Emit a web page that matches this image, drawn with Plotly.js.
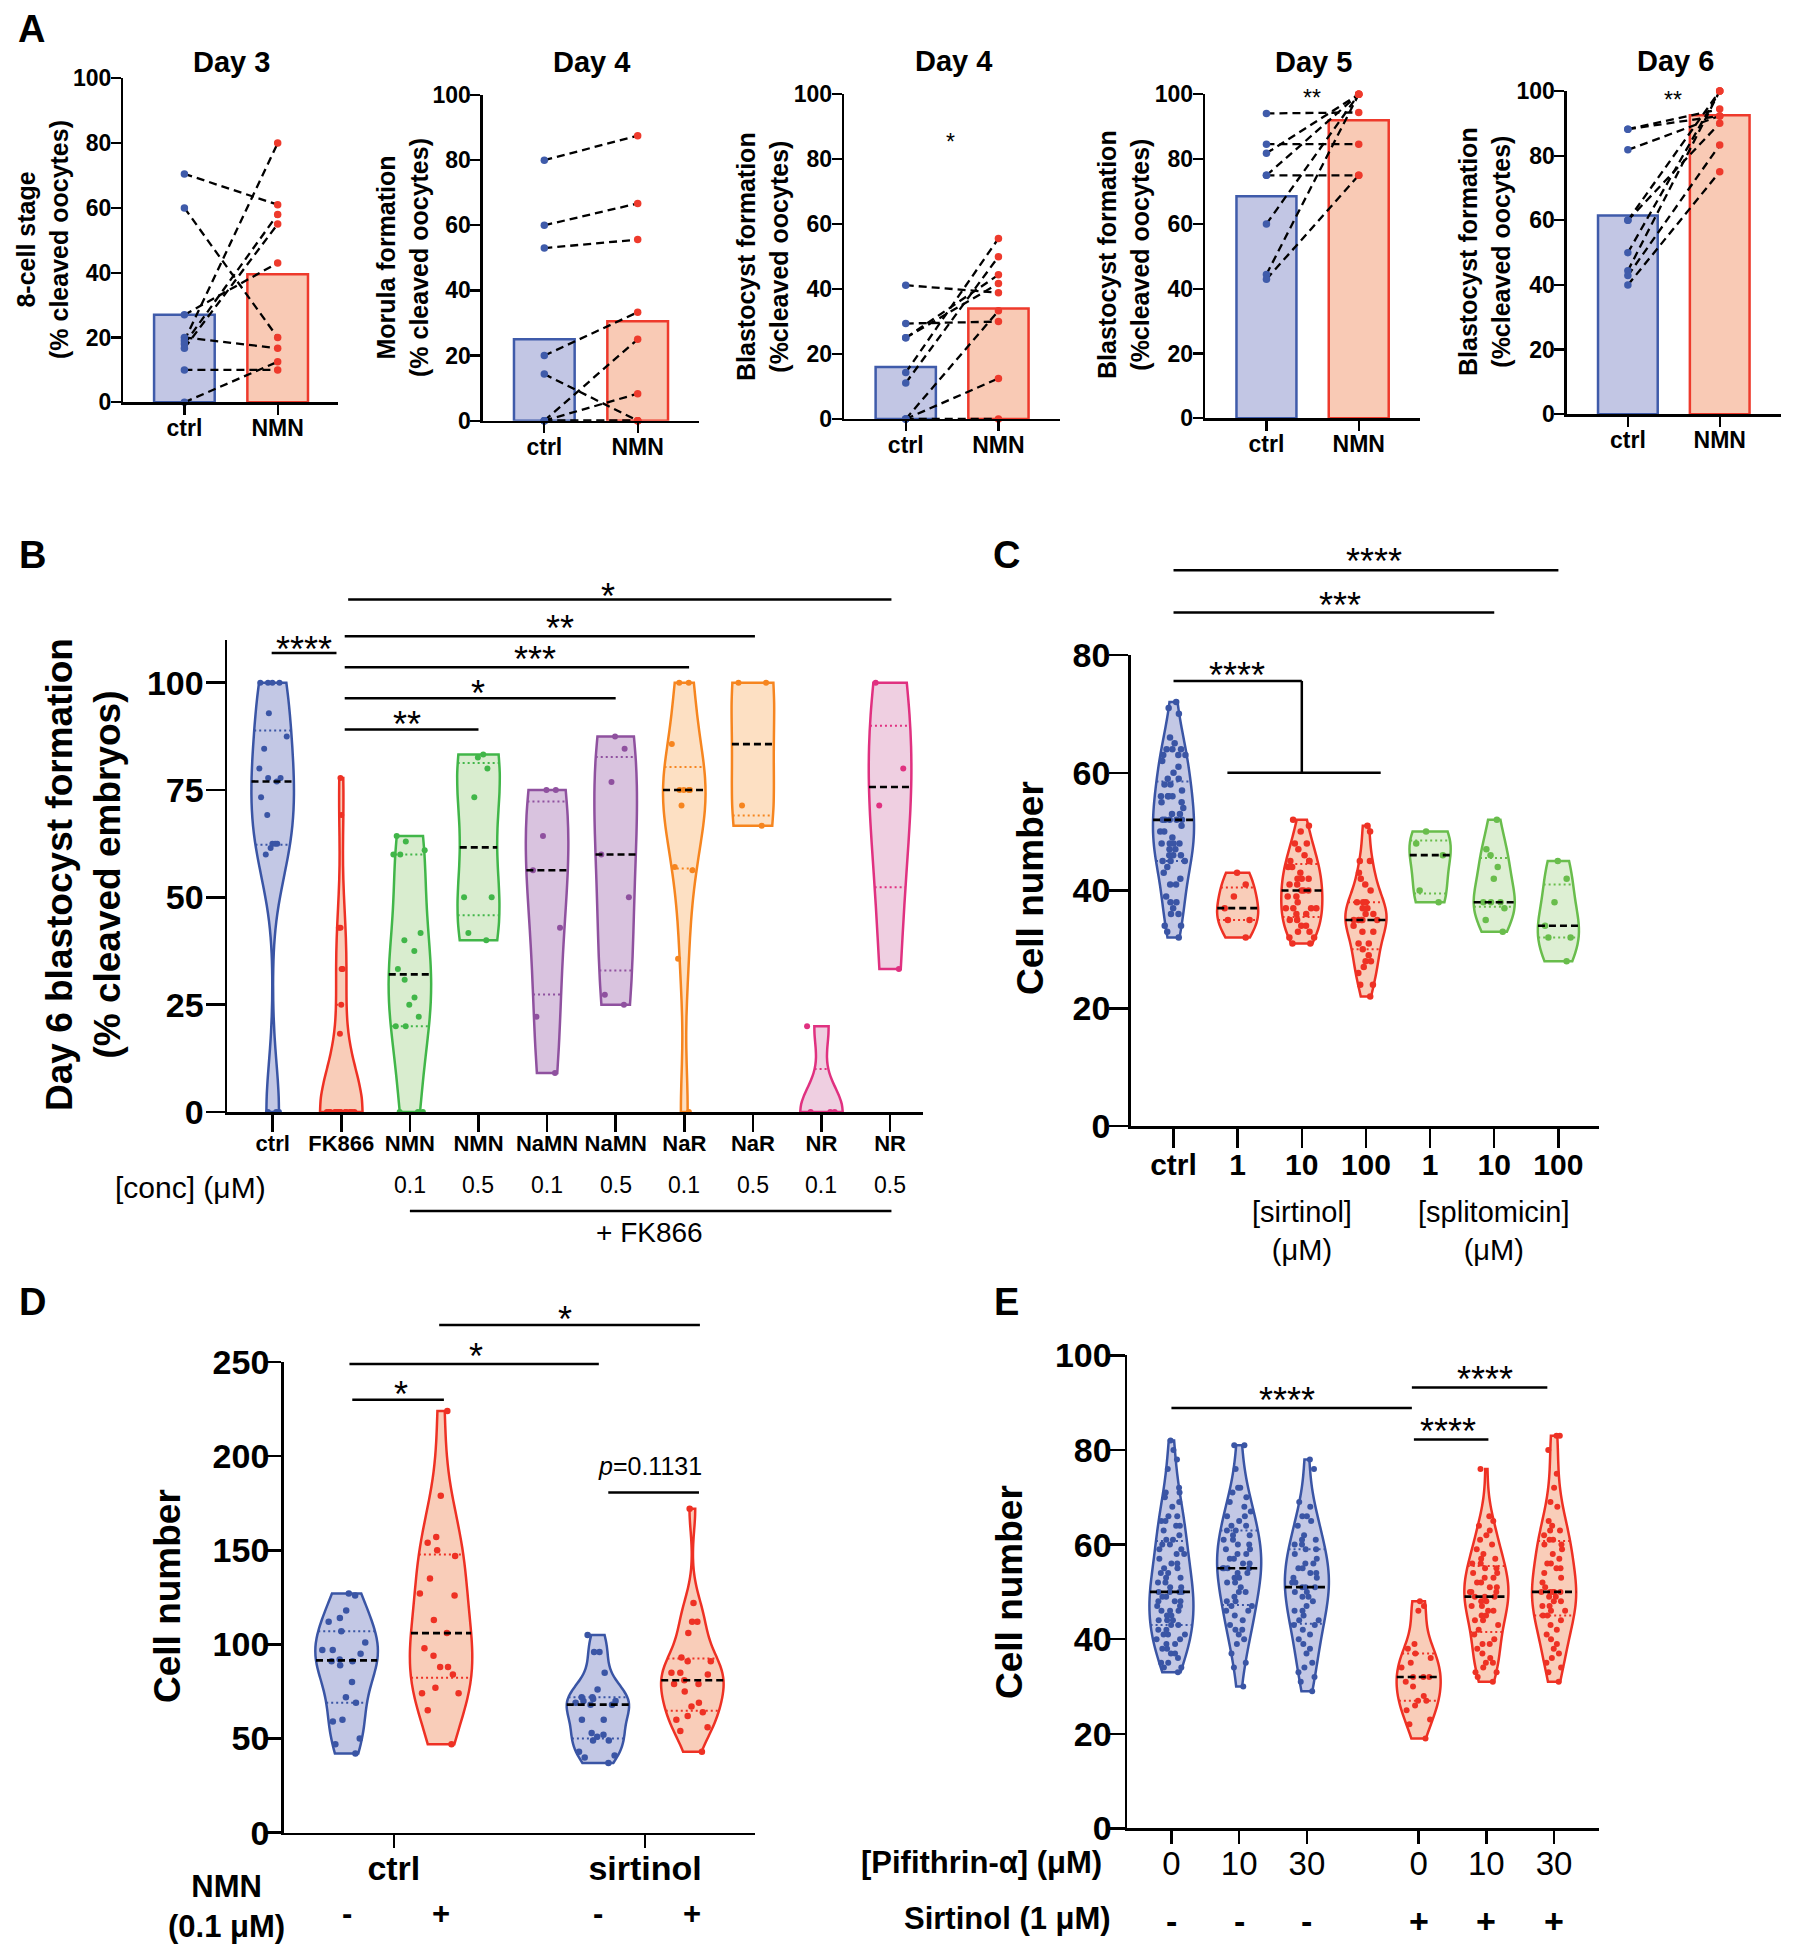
<!DOCTYPE html>
<html><head><meta charset="utf-8">
<script src="https://cdn.plot.ly/plotly-3.0.1.min.js"></script>
<style>html,body{margin:0;padding:0;background:#fff}#chart{width:1793px;height:1957px}</style>
</head><body><div id="chart"></div>
<script>
// ================= DATA =================
// Panel A (paired values, ctrl -> NMN)
const aCategories = ['ctrl', 'NMN'];
const aTitles = ['Day 3', 'Day 4', 'Day 4', 'Day 5', 'Day 6'];
const aYTitles = ['8-cell stage<br>(% cleaved oocytes)', 'Morula formation<br>(% cleaved oocytes)',
  'Blastocyst formation<br>(%cleaved oocytes)', 'Blastocyst formation<br>(%cleaved oocytes)',
  'Blastocyst formation<br>(%cleaved oocytes)'];
const aSignif = ['', '', '*', '**', '**'];
const day3Ctrl = [70.5, 60, 27, 20, 19, 18, 16.7, 10, 0];
const day3NMN  = [61, 20, 43, 16.7, 80, 58, 55, 10, 12.5];
const day3Bars = [27, 39.5];
const day4MorCtrl = [80, 60, 53, 20, 14.3, 0, 0, 0, 0];
const day4MorNMN  = [87.5, 66.7, 55.6, 33.3, 0, 25, 8.3, 0, 0];
const day4MorBars = [25, 30.5];
const day4BlaCtrl = [41.2, 29.4, 25, 25, 14.3, 11.1, 0, 0, 0];
const day4BlaNMN  = [38.9, 30, 41.7, 44.4, 55.6, 50, 33.3, 12.5, 0];
const day4BlaBars = [16, 34];
const day5Ctrl = [94.1, 84.6, 81.8, 75, 75, 60, 44.4, 42.9];
const day5NMN  = [94.4, 84.6, 100, 75, 100, 100, 100, 75];
const day5Bars = [68.5, 92];
const day6Ctrl = [88.2, 88.2, 81.8, 60, 60, 50, 44.4, 42.9, 40];
const day6NMN  = [92.3, 94.4, 92.3, 100, 90, 100, 100, 83.3, 75];
const day6Bars = [61.5, 92.5];

// Panel B (Day 6 blastocyst formation, % cleaved embryos)
const bCategories = ['ctrl', 'FK866', 'NMN', 'NMN', 'NaMN', 'NaMN', 'NaR', 'NaR', 'NR', 'NR'];
const bConc = ['', '', '0.1', '0.5', '0.1', '0.5', '0.1', '0.5', '0.1', '0.5'];
const bCtrl = [100, 100, 100, 100, 92.9, 87.5, 84.6, 80, 77.8, 77, 77.8, 73.3, 69.2, 62.5, 62.5, 62.5, 61.5, 60, 0, 0, 0];
const bFK866 = [77.8, 69.2, 42.9, 42.9, 33.3, 33.3, 25, 18.2, 0, 0, 0, 0, 0, 0, 0, 0, 0, 0, 0, 0, 0, 0, 0, 0, 0, 0];
const bNMN01 = [64.3, 63, 61, 60, 60, 41.7, 40, 37.5, 33.3, 30.8, 26.7, 25, 22.2, 20, 20, 0, 0, 0];
const bNMN05 = [83.3, 82.6, 80, 73.3, 50, 50, 41.7, 40];
const bNaMN01 = [75, 75, 64.3, 56.3, 42.9, 22.2, 9.1];
const bNaMN05 = [87.5, 84.6, 76.9, 60, 50, 27.3, 25];
const bNaR01 = [100, 100, 85.7, 75, 75, 75, 75, 71.4, 57.1, 56.3, 35.7, 0];
const bNaR05 = [100, 100, 71.4, 66.7];
const bNR01 = [20, 0, 0, 0];
const bNR05 = [100, 80, 71.4, 33.3];

// Panel C (cell number)
const cCategories = ['ctrl', '1', '10', '100', '1', '10', '100'];
const cCtrl = [72, 71, 70, 66, 65, 64, 64, 64, 63, 63, 63, 62, 61, 60, 59, 59, 58, 58, 57, 56, 56, 56, 56, 55, 55, 54, 53, 53, 52, 52, 52, 52, 52, 51, 50, 50, 49, 48, 48, 48, 48, 47, 47, 46, 46, 46, 45, 45, 45, 44, 43, 42, 41, 41, 39, 38, 38, 37, 36, 36, 34, 34, 33, 32];
const cSirt1 = [43, 41, 39, 37, 35, 35, 32];
const cSirt10 = [52, 51, 50, 48, 48, 47, 46, 45, 45, 45, 44, 44, 43, 42, 42, 42, 41, 41, 40, 40, 40, 39, 39, 38, 37, 37, 37, 37, 36, 36, 35, 35, 34, 34, 33, 33, 32, 32, 31, 31];
const cSirt100 = [51, 50, 45, 45, 43, 42, 41, 40, 38, 38, 38, 37, 37, 36, 36, 35, 35, 35, 35, 35, 34, 33, 33, 31, 31, 30, 29, 28, 28, 27, 26, 24, 24, 22];
const cSplit1 = [50, 48, 46, 40, 38];
const cSplit10 = [52, 47, 46, 44, 42, 38, 38, 38, 37, 35, 33];
const cSplit100 = [45, 42, 38, 34, 32, 32, 28];

// Panel D (cell number)
const dGroups = ['ctrl', 'sirtinol'];
const dNMN = ['-', '+', '-', '+'];
const dCtrlMinus = [127, 126, 118, 114, 112, 107, 101, 97, 97, 95, 92, 91, 91, 89, 80, 72, 69, 60, 59, 50, 47, 42];
const dCtrlPlus = [224, 179, 157, 154, 150, 147, 135, 127, 126, 113, 106, 98, 94, 88, 88, 84, 77, 74, 74, 65, 47];
const dSirtMinus = [105, 96, 96, 85, 76, 72, 72, 71, 70, 70, 69, 68, 68, 60, 60, 53, 52, 51, 49, 49, 43, 41, 40, 37];
const dSirtPlus = [172, 122, 112, 112, 106, 93, 91, 91, 85, 85, 84, 81, 79, 79, 75, 69, 67, 64, 62, 60, 56, 54, 43];

// Panel E (cell number)
const ePifithrin = ['0', '10', '30', '0', '10', '30'];
const eSirtinol = ['-', '-', '-', '+', '+', '+'];
const eCtrl0 = [82, 80, 78, 76, 72, 71, 71, 70, 69, 68, 66, 66, 65, 65, 64, 64, 63, 62, 61, 61, 60, 60, 59, 59, 58, 58, 57, 56, 56, 55, 55, 54, 54, 53, 53, 52, 52, 51, 51, 50, 50, 50, 50, 49, 49, 48, 48, 48, 47, 47, 46, 46, 46, 45, 45, 44, 44, 44, 43, 43, 42, 42, 41, 41, 41, 40, 40, 39, 39, 38, 38, 37, 37, 36, 35, 35, 34, 34, 33];
const eCtrl10 = [81, 81, 76, 72, 72, 71, 70, 69, 68, 67, 66, 66, 65, 64, 64, 63, 63, 62, 62, 61, 61, 60, 60, 59, 59, 58, 58, 57, 57, 56, 56, 55, 55, 55, 55, 54, 54, 53, 53, 52, 52, 51, 50, 50, 49, 48, 48, 47, 47, 46, 46, 45, 44, 43, 42, 42, 41, 40, 39, 37, 35, 34, 30];
const eCtrl30 = [78, 76, 69, 68, 66, 66, 65, 64, 62, 61, 61, 60, 60, 59, 59, 58, 57, 56, 56, 55, 55, 54, 54, 53, 53, 52, 52, 51, 51, 51, 50, 50, 49, 49, 48, 47, 46, 46, 45, 44, 44, 43, 43, 42, 41, 40, 39, 38, 37, 35, 34, 33, 32, 31, 29];
const eSirt0 = [48, 47, 46, 39, 38, 37, 36, 35, 34, 32, 32, 32, 31, 30, 28, 27, 27, 26, 25, 23, 22, 19];
const eSirt10 = [76, 66, 65, 64, 63, 62, 61, 60, 59, 58, 57, 57, 56, 56, 55, 55, 54, 54, 53, 53, 52, 52, 51, 51, 50, 50, 50, 49, 49, 49, 48, 48, 47, 47, 46, 46, 45, 45, 44, 44, 43, 42, 41, 40, 39, 39, 38, 37, 36, 35, 35, 34, 33, 33, 32, 31];
const eSirt30 = [83, 83, 80, 75, 72, 69, 68, 65, 64, 63, 63, 62, 61, 61, 60, 60, 59, 58, 57, 56, 56, 55, 55, 54, 53, 52, 51, 50, 50, 50, 50, 50, 49, 49, 48, 48, 47, 47, 46, 46, 45, 45, 44, 43, 42, 41, 40, 39, 38, 37, 36, 35, 34, 33, 31];

// ================= LAYOUT / STYLE =================
const W = 1793, H = 1957;
const FONT = 'Liberation Sans, Arial, Helvetica, sans-serif';
const BLUE = '#3A55A5', BLUE_F = '#C3C8E5';
const RED = '#EE3124', RED_F = '#F9CDB9';
const GREEN = '#41B649', GREEN_F = '#D9EDCF';
const GREENC = '#69BD4C', GREENC_F = '#DDEFD3';
const PURPLE = '#8F519F', PURPLE_F = '#D9C3DF';
const ORANGE = '#F6851F', ORANGE_F = '#FDE0C3';
const PINK = '#E03180', PINK_F = '#EFCFE1';

// subplot pixel boxes: x [left,right], y [top,bottom], data ranges
const SPEC = {
  1: {x: [123.3, 338.3], y: [78.3, 402.3], xr: [-0.655, 1.65], yr: [0, 100]},
  2: {x: [482.7, 699.3], y: [95, 420.7], xr: [-0.66, 1.66], yr: [0, 100]},
  3: {x: [844, 1060], y: [94.3, 419], xr: [-0.666, 1.664], yr: [0, 100]},
  4: {x: [1205, 1420], y: [94.3, 418.3], xr: [-0.666, 1.664], yr: [0, 100]},
  5: {x: [1566.7, 1780.7], y: [91, 414.3], xr: [-0.666, 1.664], yr: [0, 100]},
  6: {x: [227, 923], y: [639.8, 1112], xr: [-0.666, 9.48], yr: [0, 110]},
  7: {x: [1130.6, 1598.8], y: [655, 1126], xr: [-0.669, 6.63], yr: [0, 80]},
  8: {x: [283.6, 754.7], y: [1362, 1832.7], xr: [-0.667, 4.32], yr: [0, 250]},
  9: {x: [1127, 1598.8], y: [1355.4, 1828.4], xr: [-0.656, 6.31], yr: [0, 100]}
};
function P(i, x, y) {
  const s = SPEC[i];
  return [s.x[0] + (x - s.xr[0]) / (s.xr[1] - s.xr[0]) * (s.x[1] - s.x[0]),
          s.y[1] - (y - s.yr[0]) / (s.yr[1] - s.yr[0]) * (s.y[1] - s.y[0])];
}
const ax = i => (i === 1 ? '' : String(i));

const layout = {
  width: W, height: H, margin: {l: 0, r: 0, t: 0, b: 0, pad: 0},
  paper_bgcolor: '#fff', plot_bgcolor: 'rgba(0,0,0,0)', showlegend: false,
  font: {family: FONT, color: '#000'}, annotations: [], shapes: []
};
const traces = [];

function mkAxes(i, o) {
  const s = SPEC[i];
  layout['xaxis' + ax(i)] = {
    domain: [s.x[0] / W, s.x[1] / W], range: s.xr, anchor: 'y' + ax(i), type: 'linear',
    showline: true, linecolor: '#000', linewidth: o.lw, ticks: 'outside', ticklen: o.xtl,
    tickwidth: o.lw, tickcolor: '#000', tickvals: o.xtv, ticktext: o.xtt,
    tickfont: {family: FONT, size: o.xfs, color: '#000', weight: o.xw || 'bold'},
    ticklabelstandoff: o.xso || 0, showgrid: false, zeroline: false, fixedrange: true
  };
  layout['yaxis' + ax(i)] = {
    domain: [1 - s.y[1] / H, 1 - s.y[0] / H], range: s.yr, anchor: 'x' + ax(i), type: 'linear',
    showline: true, linecolor: '#000', linewidth: o.lw, ticks: 'outside', ticklen: o.ytl,
    tickwidth: o.lw, tickcolor: '#000', tickvals: o.ytv,
    tickfont: {family: FONT, size: o.yfs, color: '#000', weight: 'bold'},
    ticklabelstandoff: o.yso || 0, showgrid: false, zeroline: false, fixedrange: true
  };
}
function ann(px, py, text, size, o) {
  return Object.assign({xref: 'paper', yref: 'paper', x: px / W, y: 1 - py / H, xanchor: 'center',
    yanchor: 'middle', text: text, showarrow: false, font: {family: FONT, size: size, color: '#000'}}, o || {});
}
function lineShape(p0, p1, w) {
  return {type: 'line', xref: 'paper', yref: 'paper', x0: p0[0] / W, y0: 1 - p0[1] / H,
    x1: p1[0] / W, y1: 1 - p1[1] / H, line: {color: '#000', width: w || 2.5}};
}
function sigH(i, x0, x1, y) { layout.shapes.push(lineShape(P(i, x0, y), P(i, x1, y))); }
function sigV(i, x, y0, y1) { layout.shapes.push(lineShape(P(i, x, y0), P(i, x, y1))); }
function sigT(i, x, y, text, fs) {
  const p = P(i, x, y);
  layout.annotations.push(ann(p[0], p[1] + 0.22 * fs, text, fs));
}

// -------- KDE helpers (same rule as Plotly violin) --------
function interp(arr, n) {
  n = n * arr.length - 0.5;
  if (n < 0) return arr[0];
  if (n > arr.length - 1) return arr[arr.length - 1];
  const f = n % 1;
  return f * arr[Math.ceil(n)] + (1 - f) * arr[Math.floor(n)];
}
function violinStats(vals) {
  const s = vals.slice().sort((a, b) => a - b);
  const n = s.length, mean = s.reduce((a, b) => a + b, 0) / n;
  const ssd = Math.sqrt(s.reduce((a, b) => a + (b - mean) * (b - mean), 0) / (n - 1));
  const q1 = interp(s, 0.25), q3 = interp(s, 0.75), med = interp(s, 0.5);
  const span = s[n - 1] - s[0];
  const bw = Math.max(1.059 * Math.min(ssd, (q3 - q1) / 1.349) * Math.pow(n, -0.2), span / 100);
  const kde = t => { let sum = 0; for (const v of s) { const u = (t - v) / bw; sum += Math.exp(-0.5 * u * u); } return sum; };
  let maxK = 0;
  const nstep = Math.ceil(span / (bw / 3)), step = span / nstep;
  for (let k = 0; k <= nstep; k++) maxK = Math.max(maxK, kde(s[0] + k * step));
  return {q1, q3, med, min: s[0], max: s[n - 1], rel: t => kde(t) / maxK};
}

let vid = 0;
function addViolin(i, vals, pos, col, fill, width, msize) {
  vid++;
  traces.push({
    type: 'violin', x0: pos, y: vals, xaxis: 'x' + ax(i), yaxis: 'y' + ax(i), name: 'v' + vid,
    width: width, scalemode: 'width', scalegroup: 'g' + vid, spanmode: 'hard',
    points: 'all', pointpos: 0, jitter: 0.8,
    marker: {size: msize, color: col, line: {width: 0}}, line: {color: col, width: 2.5},
    fillcolor: fill, box: {visible: false}, meanline: {visible: false}, hoverinfo: 'skip'
  });
  const st = violinStats(vals);
  const seg = (y, c, dash, w) => {
    if (y <= st.min + 1e-9 || y >= st.max - 1e-9) return;
    const hw = width / 2 * st.rel(y);
    traces.push({type: 'scatter', mode: 'lines', x: [pos - hw, pos + hw], y: [y, y],
      xaxis: 'x' + ax(i), yaxis: 'y' + ax(i), line: {color: c, width: w, dash: dash}, hoverinfo: 'skip'});
  };
  seg(st.q1, col, '2px,3px', 2);
  seg(st.q3, col, '2px,3px', 2);
  seg(st.med, '#000', '7px,4px', 2.6);
}

// ================= PANEL A =================
const aSets = [
  [day3Ctrl, day3NMN, day3Bars], [day4MorCtrl, day4MorNMN, day4MorBars],
  [day4BlaCtrl, day4BlaNMN, day4BlaBars], [day5Ctrl, day5NMN, day5Bars], [day6Ctrl, day6NMN, day6Bars]
];
const aTitlePx = [[231.7, 62], [591.7, 62], [953, 61], [1313, 62], [1675, 61]];
const aYTitlePx = [[42, 240], [403, 258], [763, 257], [1123, 255], [1484, 252]];
const aSigPos = [null, null, [0.48, 87], [0.49, 100.4], [0.49, 98.8]];
aSets.forEach((set, k) => {
  const i = k + 1, xa = 'x' + ax(i), ya = 'y' + ax(i);
  const [ctrl, nmn, bars] = set;
  mkAxes(i, {lw: 2.3, xtl: 10, ytl: 10, xtv: [0, 1], xtt: aCategories, xfs: 23, yfs: 23,
    ytv: [0, 20, 40, 60, 80, 100], xso: -6, yso: -5});
  traces.push({type: 'bar', x: [0, 1], y: bars, xaxis: xa, yaxis: ya, width: 0.65,
    marker: {color: ['#C2C6E4', '#F9CAB5'], line: {color: ['#3F5BAA', '#EE3A2C'], width: 2.5}}, hoverinfo: 'skip'});
  const lx = [], ly = [];
  ctrl.forEach((c, j) => { lx.push(0, 1, null); ly.push(c, nmn[j], null); });
  traces.push({type: 'scatter', mode: 'lines', x: lx, y: ly, xaxis: xa, yaxis: ya, cliponaxis: false,
    line: {color: '#000', width: 2.3, dash: '8px,5px'}, hoverinfo: 'skip'});
  traces.push({type: 'scatter', mode: 'markers', x: ctrl.map(() => 0), y: ctrl, xaxis: xa, yaxis: ya,
    cliponaxis: false, marker: {size: 7.5, color: '#3F5BAA'}, hoverinfo: 'skip'});
  traces.push({type: 'scatter', mode: 'markers', x: nmn.map(() => 1), y: nmn, xaxis: xa, yaxis: ya,
    cliponaxis: false, marker: {size: 7.5, color: '#EE3A2C'}, hoverinfo: 'skip'});
  layout.annotations.push(ann(aTitlePx[k][0], aTitlePx[k][1], '<b>' + aTitles[k] + '</b>', 29));
  layout.annotations.push(ann(aYTitlePx[k][0], aYTitlePx[k][1], '<b>' + aYTitles[k] + '</b>', 25, {textangle: -90}));
  if (aSignif[k]) sigT(i, aSigPos[k][0], aSigPos[k][1], aSignif[k], 23);
});

// ================= PANEL B =================
const bSeries = [bCtrl, bFK866, bNMN01, bNMN05, bNaMN01, bNaMN05, bNaR01, bNaR05, bNR01, bNR05];
const bCols = [[BLUE, BLUE_F], [RED, RED_F], [GREEN, GREEN_F], [GREEN, GREEN_F], [PURPLE, PURPLE_F],
  [PURPLE, PURPLE_F], [ORANGE, ORANGE_F], [ORANGE, ORANGE_F], [PINK, PINK_F], [PINK, PINK_F]];
const bPos = bCategories.map((_, k) => k);
mkAxes(6, {lw: 2.5, xtl: 17, ytl: 19, xtv: bPos, xtt: bCategories, xfs: 22, yfs: 34,
  ytv: [0, 25, 50, 75, 100], xso: -7, yso: -5});
bSeries.forEach((v, k) => addViolin(6, v, bPos[k], bCols[k][0], bCols[k][1], 0.62, 6));
bConc.forEach((c, k) => { if (c) layout.annotations.push(ann(P(6, bPos[k], 0)[0], 1185, c, 23)); });
layout.annotations.push(ann(190, 1187, '[conc] (μM)', 30));
layout.shapes.push(lineShape([P(6, 2, 0)[0], 1211], [P(6, 9.02, 0)[0], 1211]));
layout.annotations.push(ann((P(6, 2, 0)[0] + P(6, 9, 0)[0]) / 2, 1232, '+ FK866', 28));
layout.annotations.push(ann(83, 875, '<b>Day 6 blastocyst formation<br>(% cleaved embryos)</b>', 37, {textangle: -90}));
sigH(6, -0.015, 0.93, 106.9); sigT(6, 0.45, 109.6, '****', 36);
sigH(6, 1.05, 3.0, 89.1);    sigT(6, 1.96, 92.1, '**', 36);
sigH(6, 1.05, 5.0, 96.4);    sigT(6, 3.0, 99.3, '*', 36);
sigH(6, 1.05, 6.07, 103.6);  sigT(6, 3.82, 107.3, '***', 36);
sigH(6, 1.05, 7.03, 110.8);  sigT(6, 4.19, 114.5, '**', 36);
sigH(6, 1.1, 9.02, 119.4);   sigT(6, 4.89, 122, '*', 36);

// ================= PANEL C =================
const cSeries = [cCtrl, cSirt1, cSirt10, cSirt100, cSplit1, cSplit10, cSplit100];
const cCols = [[BLUE, BLUE_F], [RED, RED_F], [RED, RED_F], [RED, RED_F], [GREENC, GREENC_F], [GREENC, GREENC_F], [GREENC, GREENC_F]];
const cPos = cCategories.map((_, k) => k);
mkAxes(7, {lw: 2.5, xtl: 19, ytl: 19, xtv: cPos, xtt: cCategories, xfs: 30, yfs: 34,
  ytv: [0, 20, 40, 60, 80], xso: -9, yso: -8});
cSeries.forEach((v, k) => addViolin(7, v, cPos[k], cCols[k][0], cCols[k][1], 0.64, 6.5));
layout.annotations.push(ann(P(7, 2, 0)[0], 1231, '[sirtinol]<br>(μM)', 29));
layout.annotations.push(ann(P(7, 5, 0)[0], 1231, '[splitomicin]<br>(μM)', 29));
layout.annotations.push(ann(1030, 888, '<b>Cell number</b>', 37, {textangle: -90}));
sigH(7, 0, 6, 94.4);  sigT(7, 3.13, 97.3, '****', 36);
sigH(7, 0, 5, 87.2);  sigT(7, 2.59, 89.8, '***', 36);
sigH(7, 0, 2, 75.6); sigV(7, 2, 75.6, 60); sigH(7, 0.84, 3.23, 60);
sigT(7, 0.99, 77.8, '****', 36);

// ================= PANEL D =================
const dSeries = [dCtrlMinus, dCtrlPlus, dSirtMinus, dSirtPlus];
const dCols = [[BLUE, BLUE_F], [RED, RED_F], [BLUE, BLUE_F], [RED, RED_F]];
const dPos = [0, 1, 2.66, 3.66];
const dTickPos = [0.5, 3.16];
mkAxes(8, {lw: 2.5, xtl: 13, ytl: 14, xtv: dTickPos, xtt: dGroups, xfs: 34, yfs: 34,
  ytv: [0, 50, 100, 150, 200, 250], xso: -9, yso: -9});
dSeries.forEach((v, k) => addViolin(8, v, dPos[k], dCols[k][0], dCols[k][1], 0.66, 6.5));
dNMN.forEach((s, k) => layout.annotations.push(ann(P(8, dPos[k], 0)[0], 1913, '<b>' + s + '</b>', 31)));
layout.annotations.push(ann(227, 1906, '<b>NMN<br>(0.1 μM)</b>', 31));
layout.annotations.push(ann(167, 1596, '<b>Cell number</b>', 37, {textangle: -90}));
sigH(8, 0.06, 1.03, 230);   sigT(8, 0.58, 237, '*', 36);
sigH(8, 0.03, 2.67, 248.9); sigT(8, 1.37, 257, '*', 36);
sigH(8, 0.98, 3.74, 269.7); sigT(8, 2.31, 277, '*', 36);
sigH(8, 2.77, 3.73, 180.7);
(function () { const p = P(8, 3.21, 195); layout.annotations.push(ann(p[0], p[1], '<i>p</i>=0.1131', 25)); })();

// ================= PANEL E =================
const eSeries = [eCtrl0, eCtrl10, eCtrl30, eSirt0, eSirt10, eSirt30];
const eCols = [[BLUE, BLUE_F], [BLUE, BLUE_F], [BLUE, BLUE_F], [RED, RED_F], [RED, RED_F], [RED, RED_F]];
const ePos = [0, 1, 2, 3.65, 4.65, 5.65];
mkAxes(9, {lw: 2.5, xtl: 13, ytl: 15, xtv: ePos, xtt: ePifithrin, xfs: 33, xw: 'normal', yfs: 34,
  ytv: [0, 20, 40, 60, 80, 100], xso: -9, yso: -9});
eSeries.forEach((v, k) => addViolin(9, v, ePos[k], eCols[k][0], eCols[k][1], 0.65, 6));
eSirtinol.forEach((s, k) => layout.annotations.push(ann(P(9, ePos[k], 0)[0], 1921, '<b>' + s + '</b>', 34)));
layout.annotations.push(ann(1104, 1862, '<b>[Pifithrin-α] (μM)</b>', 31, {xanchor: 'right'}));
layout.annotations.push(ann(1113, 1918, '<b>Sirtinol (1 μM)</b>', 31, {xanchor: 'right'}));
layout.annotations.push(ann(1009, 1592, '<b>Cell number</b>', 37, {textangle: -90}));
sigH(9, 0, 3.55, 88.9);    sigT(9, 1.70, 92.2, '****', 36);
sigH(9, 3.55, 5.55, 93.2); sigT(9, 4.63, 96.5, '****', 36);
sigH(9, 3.58, 4.68, 82.2); sigT(9, 4.08, 85.6, '****', 36);

// ================= PANEL LABELS =================
[['A', 31, 29], ['B', 32, 555], ['C', 1006, 555], ['D', 32, 1302], ['E', 1006, 1302]].forEach(l =>
  layout.annotations.push(ann(l[1], l[2], '<b>' + l[0] + '</b>', 38)));

Plotly.newPlot('chart', traces, layout, {staticPlot: true, displayModeBar: false});
</script>
</body></html>
